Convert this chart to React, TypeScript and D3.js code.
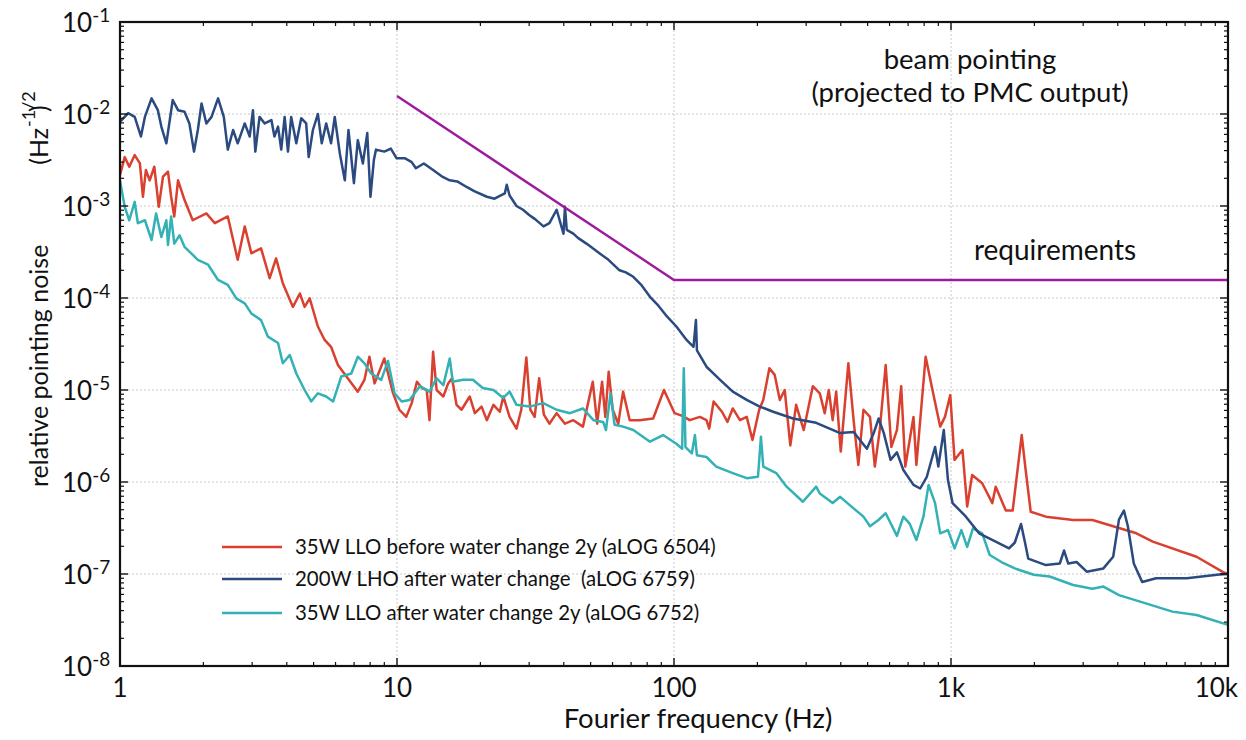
import React from "react";
import * as d3 from "d3";

// ---- data ----
const redF = [1.0,1.04,1.08,1.13,1.18,1.21,1.24,1.28,1.33,1.38,1.43,1.49,1.53,1.57,1.62,1.71,1.83,2.05,2.2,2.45,2.66,2.82,2.98,3.23,3.47,3.66,3.87,4.21,4.46,4.64,4.84,5.18,5.48,5.78,6.12,6.64,7.22,7.63,7.95,8.3,9.0,9.68,10.2,10.8,11.3,11.8,12.3,12.8,13.1,13.5,13.9,14.7,15.3,15.8,16.4,17.1,18.3,19.1,20.2,21.1,22.3,23.5,24.2,25.5,27.0,28.1,29.3,30.3,31.4,32.6,33.9,35.5,37.7,40.4,43.3,46.9,50.9,52.8,55.0,56.5,58.1,60.1,62.9,65.5,69.2,75.1,84.1,92.0,100.5,107.7,114,124,131,134,139,149,156,163,173,183,192,203,210,221,231,241,251,263,276,294,317,336,350,362,374,385,400,426,445,463,483,510,531,553,581,609,638,661,684,732,750,810,862,914,951,994,1030,1100,1144,1192,1296,1410,1450,1577,1670,1800,1860,1940,2200,2760,3240,3850,4670,5350,7700,9600,10000];
const redV = [2.17e-3,3.4e-3,2.67e-3,3.58e-3,2.9e-3,1.26e-3,2.46e-3,1.9e-3,2.67e-3,9.8e-4,2.09e-3,2.36e-3,1.26e-3,7.7e-4,1.9e-3,1.16e-3,7.0e-4,8.3e-4,6.5e-4,7.7e-4,2.6e-4,6.0e-4,3.06e-4,3.47e-4,1.64e-4,2.7e-4,1.45e-4,8.0e-5,1.12e-4,8.0e-5,9.9e-5,4.9e-5,3.5e-5,2.95e-5,1.87e-5,1.34e-5,9.6e-6,1.29e-5,2.3e-5,1.18e-5,2.2e-5,9.2e-6,6.1e-6,5.1e-6,7.2e-6,1.23e-5,1.05e-5,1.0e-5,4.7e-6,2.6e-5,1.0e-5,8.5e-6,1.18e-5,1.34e-5,6.9e-6,6.1e-6,8.5e-6,5.6e-6,6.6e-6,4.7e-6,6.9e-6,5.8e-6,8.5e-6,5.1e-6,3.8e-6,6.1e-6,2.26e-5,6.1e-6,5.1e-6,1.34e-5,5.4e-6,4.3e-6,5.6e-6,4.3e-6,4.7e-6,4.0e-6,1.23e-5,4.3e-6,1.23e-5,5.1e-6,1.58e-5,6.1e-6,4.3e-6,9.6e-6,4.7e-6,4.7e-6,4.9e-6,1.0e-5,5.6e-6,5.2e-6,4.7e-6,5.1e-6,4.7e-6,3.8e-6,7.5e-6,5.8e-6,4.5e-6,6.3e-6,4.7e-6,5.1e-6,2.86e-6,6.1e-6,7.8e-6,1.72e-5,1.46e-5,7.8e-6,1.0e-5,2.5e-6,6.9e-6,3.67e-6,1.1e-5,9.2e-6,5.6e-6,1.0e-5,4.7e-6,9.6e-6,2.14e-6,1.95e-5,4.7e-6,1.53e-6,6.1e-6,5.1e-6,1.47e-6,3.67e-6,1.87e-5,2.4e-6,3.67e-6,1.1e-5,1.47e-6,5.1e-6,1.53e-6,2.3e-5,9.2e-6,4.0e-6,5.1e-6,8.8e-6,1.74e-6,2.23e-6,5.4e-7,1.19e-6,9.7e-7,5.9e-7,8.9e-7,4.9e-7,4.9e-7,3.24e-6,1.35e-6,4.75e-7,4.2e-7,3.86e-7,3.86e-7,3.3e-7,2.77e-7,2.25e-7,1.54e-7,1.05e-7,1.0e-7];

const blueF = [1.0,1.07,1.13,1.19,1.23,1.30,1.37,1.41,1.47,1.55,1.62,1.71,1.78,1.85,1.91,1.97,2.05,2.14,2.26,2.37,2.45,2.56,2.66,2.82,2.94,3.02,3.08,3.19,3.33,3.52,3.61,3.72,3.82,3.93,4.04,4.15,4.33,4.51,4.70,4.80,4.97,5.18,5.35,5.55,5.78,5.96,6.22,6.48,6.68,6.99,7.22,7.53,7.81,8.02,8.25,8.4,9.0,9.5,9.97,10.7,11.3,11.7,12.5,13.5,14.5,15.5,16.5,17.9,19,21.1,22.5,24.5,24.9,25.5,27,28.5,30,31.5,33.8,35.5,37.7,39.9,40.4,41,43.3,45,48.3,53.8,58,63.6,67,71.3,76,81.9,88,94.3,102,111,117.6,120,121,131,146.7,163,183,204,228,269,326,398,445,497,526,548,572,605,638,673,732,774,818,876,900,942,975,1013,1132,1263,1450,1620,1700,1790,1850,1900,2200,2470,2560,2650,2840,3090,3550,3850,4040,4210,4350,4570,4900,5500,7100,9300,10000];
const blueV = [8.2e-3,1.02e-2,9.3e-3,5.7e-3,9.3e-3,1.48e-2,1.1e-2,7.3e-3,4.8e-3,1.42e-2,1.1e-2,1.06e-2,7.9e-3,3.9e-3,6.7e-3,1.3e-2,7.9e-3,9.3e-3,1.48e-2,9.3e-3,4.1e-3,6.7e-3,4.8e-3,7.9e-3,5.7e-3,1.1e-2,3.9e-3,9.3e-3,7.9e-3,8.6e-3,5.7e-3,7.3e-3,4.1e-3,9.3e-3,3.9e-3,9.3e-3,4.8e-3,9.0e-3,7.9e-3,3.4e-3,6.7e-3,1.0e-2,4.8e-3,7.9e-3,4.8e-3,9.3e-3,3.7e-3,1.9e-3,6.7e-3,1.77e-3,5.2e-3,2.9e-3,6.2e-3,1.26e-3,3.16e-3,4.1e-3,3.9e-3,4.2e-3,3.3e-3,3.3e-3,3.0e-3,2.57e-3,2.9e-3,2.46e-3,2.1e-3,1.9e-3,1.85e-3,1.6e-3,1.45e-3,1.26e-3,1.2e-3,1.37e-3,1.7e-3,1.3e-3,1.0e-3,9.1e-4,8.0e-4,7.2e-4,6.0e-4,6.5e-4,9.1e-4,5.0e-4,9.8e-4,5.5e-4,5.0e-4,4.5e-4,3.9e-4,3.06e-4,2.6e-4,2.0e-4,1.9e-4,1.7e-4,1.4e-4,1.03e-4,8.2e-5,6.3e-5,4.9e-5,3.5e-5,2.95e-5,5.75e-5,2.7e-5,1.79e-5,1.29e-5,9.6e-6,7.8e-6,6.6e-6,5.8e-6,4.9e-6,4.4e-6,3.4e-6,3.5e-6,2.3e-6,3.4e-6,4.9e-6,3.4e-6,1.74e-6,2.1e-6,1.35e-6,9.3e-7,8.5e-7,1.14e-6,2.4e-6,1.47e-6,3.67e-6,1.05e-6,5.9e-7,4.2e-7,2.77e-7,2.25e-7,1.9e-7,2.2e-7,3.5e-7,2.2e-7,1.47e-7,1.25e-7,1.3e-7,1.8e-7,1.3e-7,1.35e-7,1.06e-7,1.15e-7,1.54e-7,3.9e-7,4.9e-7,3.3e-7,1.3e-7,8.2e-8,9.0e-8,9.0e-8,9.9e-8,1.0e-7];

const cyanF = [1.0,1.04,1.08,1.13,1.16,1.23,1.30,1.35,1.41,1.47,1.49,1.53,1.57,1.64,1.71,1.91,2.08,2.26,2.45,2.63,2.82,2.98,3.23,3.42,3.72,3.87,4.1,4.33,4.64,4.9,5.18,5.55,5.88,6.29,6.84,7.22,7.63,8.07,8.77,9.28,9.8,10.4,11.1,12.1,13.1,13.9,14.7,15.5,15.9,17.3,18.8,20.4,22.3,24.2,25.5,27.0,30.1,33.7,37.7,42.1,46.9,51.2,55.5,56.8,59.0,61.0,65.5,71.3,81.9,91.3,102,107,108.5,110,116,119,121,131,142,163,183,201,206,210,234,255,292,326,336,374,398,431,483,510,547,581,638,673,710,750,795,830,876,914,975,1030,1090,1144,1200,1296,1380,1520,1700,1990,2270,2760,3240,3550,4040,5050,6300,7700,10000];
const cyanV = [1.9e-3,9.8e-4,7.0e-4,1.11e-3,6.5e-4,7.0e-4,4.27e-4,8.3e-4,4.6e-4,7.0e-4,3.77e-4,7.7e-4,3.9e-4,4.8e-4,3.6e-4,2.6e-4,2.3e-4,1.57e-4,1.39e-4,9.9e-5,8.75e-5,6.8e-5,5.75e-5,3.8e-5,3.24e-5,1.95e-5,2.4e-5,1.51e-5,1.0e-5,7.5e-6,9.2e-6,8.5e-6,7.5e-6,1.4e-5,1.51e-5,2.3e-5,1.95e-5,1.51e-5,1.29e-5,2.07e-5,9.2e-6,7.5e-6,7.8e-6,1.1e-5,9.6e-6,1.34e-5,1.13e-5,2.2e-5,1.23e-5,1.29e-5,1.29e-5,1.05e-5,1.0e-5,8.2e-6,9.6e-6,6.9e-6,6.6e-6,7.2e-6,6.1e-6,5.6e-6,6.3e-6,4.7e-6,4.5e-6,3.67e-6,9.2e-6,4.2e-6,4.0e-6,3.67e-6,2.74e-6,3.24e-6,2.6e-6,2.3e-6,1.72e-5,2.4e-6,2.05e-6,3.24e-6,1.95e-6,1.87e-6,1.47e-6,1.25e-6,1.1e-6,1.14e-6,3.1e-6,1.47e-6,1.25e-6,8.9e-7,6.1e-7,8.9e-7,7.5e-7,5.9e-7,6.9e-7,5.6e-7,4.2e-7,3.3e-7,3.86e-7,4.57e-7,2.6e-7,4.2e-7,3.5e-7,2.34e-7,4.2e-7,9.3e-7,5.9e-7,2.77e-7,3.0e-7,1.9e-7,3.0e-7,1.97e-7,3.14e-7,2.77e-7,1.61e-7,1.35e-7,1.15e-7,9.8e-8,9.4e-8,7.6e-8,6.9e-8,7.3e-8,5.9e-8,4.8e-8,3.9e-8,3.58e-8,2.8e-8];

const reqF = [10, 100, 10000];
const reqV = [1.57e-2, 1.57e-4, 1.57e-4];

const legendLabels = [
  "35W LLO before water change 2y (aLOG 6504)",
  "200W LHO after water change  (aLOG 6759)",
  "35W LLO after water change 2y (aLOG 6752)",
];
const xTickVals = [1, 10, 100, 1000, 10000];
const xTickLabels = ["1", "10", "100", "1k", "10k"];
const yTickExps = [-8, -7, -6, -5, -4, -3, -2, -1];

const RED = "#d9402f";
const BLUE = "#2a4a80";
const CYAN = "#33b1b5";
const PURPLE = "#9c1b9c";
const FONT = "Lato, 'Open Sans', sans-serif";

const L = 120, R = 1228, T = 22, B = 666;

export default function App() {
  const x = d3.scaleLog().domain([1, 10000]).range([L, R]);
  const y = d3.scaleLog().domain([1e-8, 1e-1]).range([B, T]);
  const line = d3
    .line<[number, number]>()
    .x((d) => x(d[0]))
    .y((d) => y(d[1]));
  const zip = (f: number[], v: number[]) => f.map((ff, i) => [ff, v[i]] as [number, number]);

  const series = [
    { f: redF, v: redV, c: RED },
    { f: cyanF, v: cyanV, c: CYAN },
    { f: blueF, v: blueV, c: BLUE },
  ];

  const xMinor: number[] = [];
  for (let d = 1; d < 10000; d *= 10) for (let k = 2; k <= 9; k++) xMinor.push(d * k);
  const yMinor: number[] = [];
  for (let e = -8; e < -1; e++) for (let k = 2; k <= 9; k++) yMinor.push(k * Math.pow(10, e));

  const legendColors = [RED, BLUE, CYAN];
  const legendY = [547, 579, 613];

  return (
    <svg
      width={1246}
      height={740}
      style={{ position: "absolute", left: 0, top: 0, background: "#fff" }}
      fontFamily={FONT}
    >
      <rect x={0} y={0} width={1246} height={740} fill="#fff" />
      {/* grid */}
      {[10, 100, 1000].map((v) => (
        <line key={"gx" + v} x1={x(v)} x2={x(v)} y1={T} y2={B} stroke="#c8c8c8" strokeWidth={1} strokeDasharray="2,2" />
      ))}
      {yTickExps.slice(1, -1).map((e) => (
        <line key={"gy" + e} x1={L} x2={R} y1={y(Math.pow(10, e))} y2={y(Math.pow(10, e))} stroke="#c8c8c8" strokeWidth={1} strokeDasharray="2,2" />
      ))}
      {/* series */}
      {series.map((s, i) => (
        <path key={i} d={line(zip(s.f, s.v)) || ""} fill="none" stroke={s.c} strokeWidth={2.5} strokeLinejoin="round" />
      ))}
      <path d={line(zip(reqF, reqV)) || ""} fill="none" stroke={PURPLE} strokeWidth={2.4} />
      {/* ticks */}
      {xMinor.map((v) => (
        <g key={"xm" + v}>
          <line x1={x(v)} x2={x(v)} y1={B} y2={B - 4} stroke="#111" strokeWidth={1.2} />
          <line x1={x(v)} x2={x(v)} y1={T} y2={T + 4} stroke="#111" strokeWidth={1.2} />
        </g>
      ))}
      {xTickVals.map((v) => (
        <g key={"xM" + v}>
          <line x1={x(v)} x2={x(v)} y1={B} y2={B - 8} stroke="#111" strokeWidth={1.4} />
          <line x1={x(v)} x2={x(v)} y1={T} y2={T + 8} stroke="#111" strokeWidth={1.4} />
        </g>
      ))}
      {yMinor.map((v) => (
        <g key={"ym" + v}>
          <line x1={L} x2={L + 4} y1={y(v)} y2={y(v)} stroke="#111" strokeWidth={1.2} />
          <line x1={R} x2={R - 4} y1={y(v)} y2={y(v)} stroke="#111" strokeWidth={1.2} />
        </g>
      ))}
      {yTickExps.map((e) => (
        <g key={"yM" + e}>
          <line x1={L} x2={L + 8} y1={y(Math.pow(10, e))} y2={y(Math.pow(10, e))} stroke="#111" strokeWidth={1.4} />
          <line x1={R} x2={R - 8} y1={y(Math.pow(10, e))} y2={y(Math.pow(10, e))} stroke="#111" strokeWidth={1.4} />
        </g>
      ))}
      {/* frame */}
      <rect x={L} y={T} width={R - L} height={B - T} fill="none" stroke="#111" strokeWidth={2.2} />
      {/* x tick labels */}
      {xTickVals.map((v, i) => {
        const last = i === xTickVals.length - 1;
        return (
          <text
            key={"xl" + v}
            x={last ? 1238 : x(v)}
            y={697}
            textAnchor={last ? "end" : "middle"}
            fontSize={26}
            fill="#111"
          >
            {xTickLabels[i]}
          </text>
        );
      })}
      {/* y tick labels */}
      {yTickExps.map((e) => (
        <text key={"yl" + e} x={62} y={y(Math.pow(10, e)) + 10} fontSize={26} fill="#111">
          10
          <tspan dy={-10} fontSize={19}>
            {String(e)}
          </tspan>
        </text>
      ))}
      {/* axis titles */}
      <text x={698} y={728} textAnchor="middle" fontSize={27.5} fill="#111">
        Fourier frequency (Hz)
      </text>
      <g transform="translate(48,0) rotate(-90)">
        <text x={-487} y={0} fontSize={25} fill="#111">
          relative pointing noise
        </text>
        <text x={-128} y={0} fontSize={25} fill="#111" textAnchor="end">
          (Hz
        </text>
        <text x={-127} y={-13} fontSize={18} fill="#111">
          -1/2
        </text>
        <text x={-112} y={0} fontSize={25} fill="#111">
          )
        </text>
      </g>
      {/* annotations */}
      <text x={970} y={69} textAnchor="middle" fontSize={27.5} fill="#111">
        beam pointing
      </text>
      <text x={970} y={102} textAnchor="middle" fontSize={27.5} fill="#111">
        (projected to PMC output)
      </text>
      <text x={1055} y={260} textAnchor="middle" fontSize={28} fill="#111">
        requirements
      </text>
      {/* legend */}
      {legendLabels.map((lab, i) => (
        <g key={"lg" + i}>
          <line x1={222} x2={282} y1={legendY[i]} y2={legendY[i]} stroke={legendColors[i]} strokeWidth={2.3} />
          <text x={295} y={legendY[i] + 7} fontSize={20.4} fill="#111" style={{ whiteSpace: "pre" }}>
            {lab}
          </text>
        </g>
      ))}
    </svg>
  );
}
